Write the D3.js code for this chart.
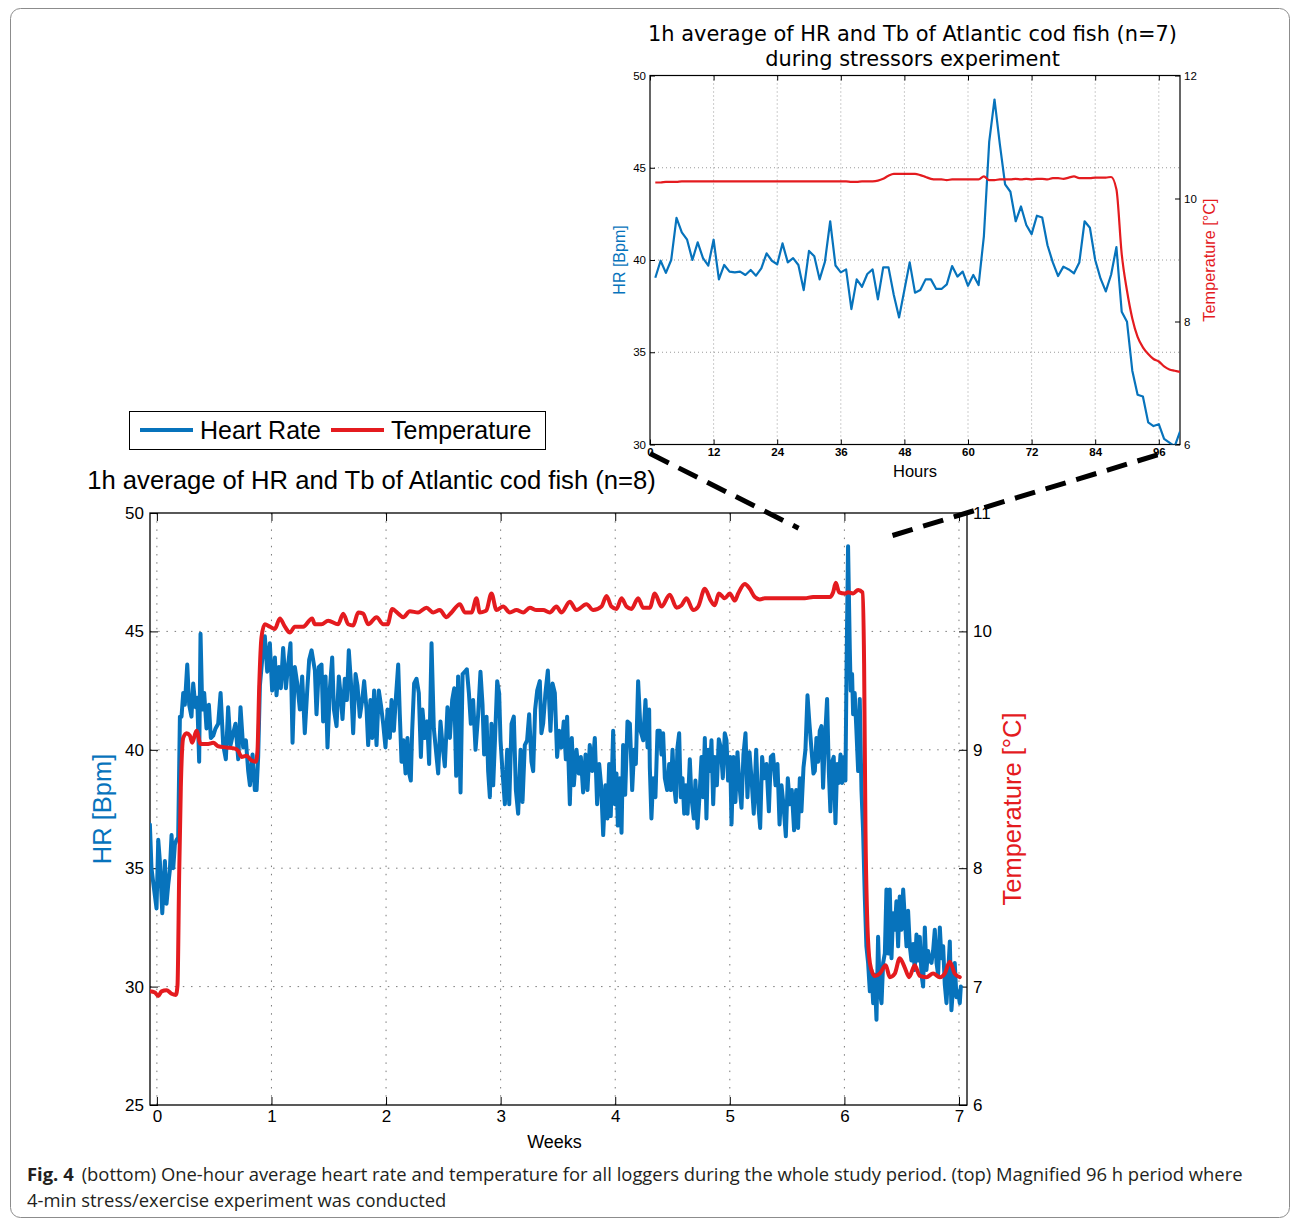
<!DOCTYPE html>
<html>
<head>
<meta charset="utf-8">
<script src="https://d3js.org/d3.v7.min.js"></script>
<style>
  body { margin: 0; background: #fff; }
  svg { display: block; font-family: "Liberation Sans", Arial, sans-serif; }
</style>
</head>
<body>
<div id="chart"></div>
<script>
// ---------- data ----------
var weekTicks = [0, 1, 2, 3, 4, 5, 6, 7];
var hrTicks = [25, 30, 35, 40, 45, 50];
var tempTicks = [6, 7, 8, 9, 10, 11];
var hourTicks = [0, 12, 24, 36, 48, 60, 72, 84, 96];
var insetHrTicks = [30, 35, 40, 45, 50];
var insetTempTicks = [6, 8, 10, 12];

// bottom panel: [week, heart rate (bpm)]
var hrWeekly = [
  [-0.061,36.85],[-0.047,35.0],[-0.032,34.4],[-0.003,33.3],[0.012,36.2],[0.026,35.3],[0.047,33.1],[0.070,35.3],
  [0.084,33.5],[0.099,34.3],[0.113,34.9],[0.128,36.4],[0.143,35.0],[0.157,36.0],[0.172,36.2],[0.186,36.3],
  [0.201,41.4],[0.215,41.4],[0.230,42.4],[0.244,41.9],[0.265,43.6],[0.282,41.9],[0.302,41.4],[0.317,42.8],
  [0.337,41.8],[0.352,42.2],[0.369,39.5],[0.381,44.9],[0.396,41.7],[0.413,42.4],[0.433,40.9],[0.454,41.9],
  [0.471,40.5],[0.492,40.6],[0.512,40.9],[0.535,41.1],[0.556,42.4],[0.579,40.2],[0.602,39.6],[0.622,41.8],
  [0.643,40.2],[0.666,40.7],[0.686,41.1],[0.710,39.6],[0.730,41.8],[0.753,40.1],[0.777,40.4],[0.797,39.1],
  [0.812,38.5],[0.835,39.8],[0.855,38.3],[0.870,38.3],[0.884,39.7],[0.899,42.7],[0.919,43.8],[0.942,44.8],
  [0.963,43.3],[0.986,44.5],[1.006,42.5],[1.030,43.9],[1.044,42.3],[1.065,43.5],[1.082,42.6],[1.102,44.3],
  [1.126,42.6],[1.146,43.6],[1.166,44.5],[1.184,40.3],[1.204,43.5],[1.225,42.8],[1.248,41.7],[1.268,43.1],
  [1.291,40.7],[1.312,42.5],[1.329,43.8],[1.350,44.2],
  [1.379,43.35],[1.393,41.5],[1.414,43.5],[1.437,43.6],[1.451,41.2],[1.472,43.1],[1.489,40.1],[1.510,42.6],
  [1.530,43.9],[1.545,41.7],[1.568,41.0],[1.588,43.1],[1.606,42.2],[1.620,41.3],[1.640,43.0],[1.658,42.1],
  [1.675,44.2],[1.693,42.9],[1.713,40.7],[1.734,43.2],[1.751,42.7],[1.771,41.4],[1.792,42.1],[1.809,42.9],
  [1.830,41.7],[1.844,40.2],[1.864,42.1],[1.879,40.5],[1.896,42.5],[1.917,40.2],[1.937,42.5],[1.955,41.9],
  [1.975,41.1],[1.995,40.1],[2.013,41.7],[2.033,40.5],[2.048,42.1],[2.068,40.8],[2.086,42.2],[2.106,43.6],
  [2.120,41.5],[2.135,39.5],[2.152,40.4],[2.170,39.0],[2.187,40.5],[2.202,39.0],[2.216,38.7],[2.228,40.8],
  [2.245,42.8],[2.266,43.0],[2.286,42.4],[2.304,39.7],[2.318,41.7],[2.339,40.5],[2.359,41.2],[2.376,39.4],
  [2.397,44.5],[2.417,40.9],[2.435,40.0],[2.455,39.0],[2.475,41.2],[2.493,40.2],[2.513,39.3],[2.536,41.8],
  [2.557,40.5],[2.577,42.1],[2.595,42.6],[2.612,38.9],[2.629,43.1],[2.650,38.2],[2.668,43.2],[2.688,43.3],
  [2.705,43.4],[2.723,42.4],[2.740,41.1],[2.760,42.1],[2.781,40.0],[2.804,41.5],[2.824,43.3],[2.842,41.9],
  [2.856,39.8],
  [2.877,41.4],[2.891,39.1],[2.906,38.0],[2.920,41.1],[2.935,38.5],[2.949,40.2],[2.970,42.9],[2.987,42.4],
  [2.999,40.4],[3.016,39.1],[3.037,37.7],[3.057,40.0],[3.075,37.7],[3.095,41.1],[3.115,41.4],[3.133,38.3],
  [3.153,37.3],[3.174,40.0],[3.191,37.8],[3.211,40.2],[3.231,40.4],[3.249,41.5],[3.269,39.5],[3.284,39.1],
  [3.301,41.7],[3.319,42.5],[3.342,42.9],[3.356,40.7],[3.371,41.1],[3.391,42.4],[3.412,43.35],[3.435,40.8],
  [3.453,42.8],[3.473,42.4],[3.493,39.7],[3.511,40.8],[3.531,40.1],[3.551,41.2],[3.569,39.6],[3.580,41.4],
  [3.604,37.7],[3.621,40.5],[3.639,38.5],[3.662,40.0],[3.682,39.0],[3.700,39.7],[3.720,38.2],[3.741,39.8],
  [3.758,38.3],[3.778,40.2],[3.799,39.1],[3.822,40.5],[3.842,37.7],[3.860,39.4],[3.877,38.5],[3.895,36.4],
  [3.915,38.5],[3.932,37.1],[3.947,39.4],[3.961,37.2],[3.982,40.8],[3.997,37.7],[4.011,39.0],[4.023,36.8],
  [4.040,38.8],[4.055,36.5],[4.069,40.2],[4.087,38.1],[4.107,41.2],[4.128,41.1],[4.148,38.3],[4.165,40.0],
  [4.180,39.4],[4.200,42.9],[4.221,40.8],[4.244,40.4],[4.264,42.1],[4.282,40.1],[4.296,41.7],
  [4.302,39.25],[4.316,37.1],[4.331,38.8],[4.351,38.0],[4.369,40.8],[4.389,40.8],[4.404,39.8],[4.418,40.7],
  [4.433,38.8],[4.453,38.3],[4.471,39.4],[4.485,38.3],[4.500,40.0],[4.514,38.5],[4.529,37.8],[4.543,40.1],
  [4.558,40.7],[4.572,38.0],[4.587,38.8],[4.602,37.3],[4.616,38.5],[4.631,37.3],[4.651,39.6],[4.665,38.0],
  [4.686,37.1],[4.700,38.7],[4.718,36.7],[4.735,38.0],[4.753,39.7],[4.767,38.0],[4.782,40.5],[4.796,37.1],
  [4.811,40.0],[4.826,39.1],[4.840,40.4],[4.855,37.7],[4.869,39.7],[4.887,38.5],[4.904,40.45],[4.921,40.1],
  [4.939,38.8],[4.956,40.7],[4.971,40.4],[4.985,38.7],[5.003,39.7],[5.015,36.85],[5.032,39.7],[5.049,37.8],
  [5.067,39.9],[5.084,38.5],[5.102,37.55],[5.119,39.8],[5.137,40.7],[5.154,38.0],[5.172,39.9],[5.189,38.8],
  [5.209,37.3],[5.230,40.0],[5.247,37.8],[5.265,36.7],[5.282,39.7],[5.300,38.8],[5.320,39.4],[5.341,37.4],
  [5.358,39.7],[5.378,39.8],[5.399,38.5],[5.416,39.4],[5.434,36.85],[5.451,38.5],[5.468,37.7],[5.489,36.35],
  [5.506,38.8],[5.524,37.7],[5.541,38.3],[5.561,36.6],[5.579,38.3],[5.596,36.7],[5.611,38.8],[5.625,37.4],
  [5.643,39.25],[5.660,40.0],[5.678,42.3],[5.695,41.1],[5.713,40.0],[5.730,39.0],
  [5.742,39.1],[5.756,40.5],[5.771,39.5],[5.785,40.8],[5.800,41.0],[5.814,38.4],[5.829,40.3],[5.849,42.15],
  [5.864,39.1],[5.878,37.4],[5.893,39.5],[5.907,39.7],[5.922,36.9],[5.937,39.4],[5.951,38.6],[5.966,39.8],
  [5.980,38.6],[5.995,39.7],[6.009,38.7],[6.020,44.0],[6.032,48.6],[6.047,44.3],[6.055,42.5],[6.067,43.2],
  [6.076,41.5],[6.090,42.4],[6.105,40.8],[6.120,39.1],[6.134,42.15],[6.149,38.3],[6.163,36.6],[6.178,33.8],
  [6.192,31.7],[6.207,31.0],[6.222,29.8],[6.236,30.7],[6.251,29.3],[6.265,30.5],[6.280,28.6],[6.294,32.1],
  [6.309,29.8],[6.324,29.3],[6.338,31.0],[6.353,31.4],[6.367,34.1],[6.382,31.4],[6.396,34.1],[6.411,31.2],
  [6.425,33.1],[6.440,32.4],[6.454,33.6],[6.469,31.7],[6.483,33.8],[6.498,32.4],[6.513,34.1],[6.527,32.9],
  [6.542,31.7],[6.556,33.2],[6.571,31.7],[6.585,31.1],[6.600,31.8],[6.614,30.7],[6.629,32.2],[6.644,31.1],
  [6.658,32.1],[6.673,30.5],[6.687,30.0],[6.702,32.5],[6.716,30.7],[6.731,31.5],[6.745,31.1],[6.760,31.0],
  [6.774,31.5],[6.789,32.4],[6.804,31.0],[6.818,30.5],[6.833,32.5],[6.847,31.2],[6.862,31.7],[6.876,30.1],
  [6.891,29.3],[6.905,30.5],[6.920,31.9],[6.934,29.0],[6.949,30.0],[6.963,31.0],[6.978,29.55],[6.992,29.8],
  [7.007,29.3],[7.016,30.0]
];

// bottom panel: [week, temperature (°C)]
var tempWeekly = [
  [-0.061,6.96],[-0.017,6.95],[0.012,6.92],[0.041,6.96],[0.084,6.97],[0.128,6.94],[0.166,6.93],[0.180,7.01],
  [0.195,7.97],[0.209,8.68],[0.230,9.10],[0.259,9.14],[0.288,9.12],[0.308,9.06],[0.346,9.16],[0.381,9.05],
  [0.448,9.05],[0.492,9.06],[0.535,9.03],[0.608,9.02],[0.681,9.01],[0.710,8.99],[0.739,8.94],[0.782,8.95],
  [0.826,8.91],[0.864,8.90],[0.878,8.99],[0.893,9.53],[0.913,9.95],[0.942,10.06],[0.986,10.04],[1.030,10.02],
  [1.073,10.11],[1.117,10.04],[1.161,9.99],[1.204,10.04],[1.277,10.04],[1.355,10.11],
  [1.379,10.06],[1.437,10.06],[1.495,10.09],[1.582,10.06],[1.626,10.15],[1.670,10.06],[1.713,10.05],[1.757,10.16],
  [1.800,10.15],[1.844,10.06],[1.917,10.12],[1.975,10.06],[2.013,10.06],[2.054,10.19],[2.106,10.15],[2.150,10.12],
  [2.208,10.17],[2.280,10.16],[2.353,10.20],[2.411,10.16],[2.469,10.18],[2.527,10.12],[2.571,10.16],[2.644,10.23],
  [2.688,10.16],[2.746,10.16],[2.789,10.28],[2.818,10.16],[2.862,10.17],
  [2.877,10.18],[2.920,10.32],[2.964,10.18],[3.022,10.21],[3.080,10.16],[3.138,10.18],[3.197,10.16],[3.255,10.20],
  [3.313,10.18],[3.371,10.18],[3.429,10.16],[3.487,10.21],[3.531,10.16],[3.604,10.25],[3.662,10.18],[3.749,10.23],
  [3.808,10.18],[3.880,10.21],[3.924,10.30],[3.967,10.21],[4.011,10.19],[4.055,10.28],[4.098,10.21],[4.142,10.19],
  [4.200,10.28],[4.244,10.20],[4.302,10.20],
  [4.345,10.32],[4.404,10.21],[4.476,10.31],[4.535,10.20],[4.578,10.22],[4.622,10.28],[4.680,10.18],[4.724,10.21],
  [4.782,10.36],[4.834,10.26],[4.869,10.22],[4.904,10.32],[4.956,10.28],[5.000,10.32],[5.044,10.26],[5.073,10.32],
  [5.131,10.40],[5.174,10.36],[5.218,10.29],[5.262,10.27],[5.305,10.28],[5.480,10.28],[5.654,10.28],[5.727,10.29],
  [5.756,10.29],[5.873,10.29],[5.902,10.33],[5.925,10.41],[5.954,10.33],[6.004,10.32],[6.032,10.33],[6.076,10.32],
  [6.120,10.35],[6.158,10.33],[6.172,9.73],[6.184,8.32],[6.198,7.61],[6.216,7.25],[6.236,7.14],[6.265,7.09],
  [6.309,7.11],[6.361,7.18],[6.396,7.08],[6.440,7.11],[6.483,7.24],[6.527,7.16],[6.565,7.08],[6.614,7.18],
  [6.658,7.09],[6.716,7.08],[6.774,7.11],[6.833,7.08],[6.876,7.11],[6.920,7.21],[6.963,7.11],[7.007,7.08]
];

// top panel: hourly averages, hour 1 .. 100
var insetHr = [
  39.04,39.96,39.3,40.0,42.28,41.5,41.1,40.0,40.96,40.1,
  39.7,41.1,38.95,39.73,39.37,39.33,39.37,39.19,39.46,39.15,
  39.55,40.36,39.96,39.76,40.9,39.87,40.1,39.73,38.37,40.49,
  40.2,38.95,39.9,42.1,39.7,39.33,39.49,37.34,38.95,38.55,
  39.24,39.49,37.87,39.6,39.6,38.1,36.89,38.37,39.87,38.23,
  38.37,38.95,38.95,38.43,38.43,38.68,39.67,39.1,39.37,38.6,
  39.19,38.64,41.3,46.4,48.7,46.3,44.1,43.7,42.1,42.9,
  41.9,41.4,42.4,42.3,40.8,39.87,39.13,39.64,39.49,39.28,
  39.86,42.1,41.75,40.0,39.0,38.3,39.2,40.7,37.2,36.65,
  34.0,32.7,32.6,31.2,31.0,31.1,30.3,30.1,29.9,30.7
];
var insetTemp = [
  10.26,10.26,10.27,10.27,10.27,10.28,10.28,10.28,10.28,10.28,
  10.28,10.28,10.28,10.28,10.28,10.28,10.28,10.28,10.28,10.28,
  10.28,10.28,10.28,10.28,10.28,10.28,10.28,10.28,10.28,10.28,
  10.28,10.28,10.28,10.28,10.28,10.28,10.28,10.27,10.27,10.28,
  10.28,10.28,10.29,10.32,10.37,10.40,10.40,10.40,10.40,10.40,
  10.38,10.35,10.32,10.31,10.31,10.30,10.31,10.31,10.31,10.31,
  10.31,10.31,10.36,10.30,10.30,10.31,10.31,10.31,10.32,10.31,
  10.32,10.31,10.32,10.32,10.31,10.33,10.33,10.32,10.34,10.36,
  10.33,10.33,10.33,10.34,10.34,10.34,10.35,10.15,9.1,8.5,
  8.05,7.75,7.58,7.47,7.39,7.35,7.27,7.22,7.2,7.18
];
var insetHours = d3.range(1, insetHr.length + 1); // one sample per hour

var blue = "#0773bc", red = "#e41b1f";

var width = 1295, height = 1221;
var svg = d3.select("#chart").append("svg")
  .attr("width", width)
  .attr("height", height);

// rounded figure frame
svg.append("rect")
  .attr("x", 10.5).attr("y", 8.5)
  .attr("width", 1279).attr("height", 1209)
  .attr("rx", 10)
  .attr("fill", "none").attr("stroke", "#8c8c8c");

// shrink/grow a text so it covers a given width
function fitWidth(sel, target) {
  var len = sel.node().getComputedTextLength();
  var fs = parseFloat(sel.attr("font-size"));
  sel.attr("font-size", (fs * target / len).toFixed(2));
}

// grid, frame and inward ticks of one panel
function drawFrame(box, x, yL, yR, xt, ylt, yrt, o) {
  var g = svg.append("g");
  g.selectAll(".vg").data(xt.filter(function(d) { return x(d) > box.left + 2 && x(d) < box.right - 2; }))
    .join("line")
      .attr("x1", function(d) { return x(d); }).attr("x2", function(d) { return x(d); })
      .attr("y1", box.top).attr("y2", box.bottom)
      .attr("stroke", o.gridColor).attr("stroke-dasharray", o.dash);
  g.selectAll(".hg").data(ylt.filter(function(d) { return yL(d) > box.top + 2 && yL(d) < box.bottom - 2; }))
    .join("line")
      .attr("y1", function(d) { return yL(d); }).attr("y2", function(d) { return yL(d); })
      .attr("x1", box.left).attr("x2", box.right)
      .attr("stroke", o.gridColor).attr("stroke-dasharray", o.dash);

  function style(a) {
    a.attr("font-family", o.font).attr("font-size", o.tickFont);
    a.select(".domain").remove();
    a.selectAll(".tick line").attr("stroke", "#000");
    a.selectAll(".tick text").attr("fill", "#000");
  }
  var fmt = d3.format("d");
  svg.append("g").attr("transform", "translate(0," + box.bottom + ")")
    .call(d3.axisBottom(x).tickValues(xt).tickFormat(fmt).tickSizeInner(-o.tick).tickSizeOuter(0).tickPadding(o.xPad))
    .call(style)
    .selectAll(".tick text").attr("font-weight", o.xBold ? "bold" : null);
  svg.append("g").attr("transform", "translate(0," + box.top + ")")
    .call(d3.axisTop(x).tickValues(xt).tickSizeInner(-o.tick).tickSizeOuter(0).tickFormat(""))
    .call(style);
  svg.append("g").attr("transform", "translate(" + box.left + ",0)")
    .call(d3.axisLeft(yL).tickValues(ylt).tickFormat(fmt).tickSizeInner(-o.tick).tickSizeOuter(0).tickPadding(o.yPad))
    .call(style);
  svg.append("g").attr("transform", "translate(" + box.right + ",0)")
    .call(d3.axisRight(yR).tickValues(yrt).tickFormat(fmt).tickSizeInner(-o.tick).tickSizeOuter(0).tickPadding(o.yPad))
    .call(style);

  svg.append("rect")
    .attr("x", box.left).attr("y", box.top)
    .attr("width", box.right - box.left).attr("height", box.bottom - box.top)
    .attr("fill", "none").attr("stroke", "#000").attr("stroke-width", o.frame);
}

// ---------- bottom panel: whole study ----------
var main = {left: 150, right: 967, top: 513, bottom: 1105};
var x = d3.scaleLinear().domain([-0.06, 7.07]).range([main.left, main.right]);
var yHr = d3.scaleLinear().domain([25, 50]).range([main.bottom, main.top]);
var yTemp = d3.scaleLinear().domain([6, 11]).range([main.bottom, main.top]);

drawFrame(main, x, yHr, yTemp, weekTicks, hrTicks, tempTicks,
  {gridColor: "#7a7a7a", dash: "1.5,6.7", tick: 8, font: "Liberation Sans, Arial, sans-serif",
   tickFont: 17, xPad: 5, yPad: 6, frame: 1.3, xBold: false});

svg.append("clipPath").attr("id", "clipMain").append("rect")
  .attr("x", main.left).attr("y", main.top)
  .attr("width", main.right - main.left).attr("height", main.bottom - main.top);

var lineHr = d3.line().x(function(d) { return x(d[0]); }).y(function(d) { return yHr(d[1]); });
var lineTemp = d3.line().curve(d3.curveMonotoneX)
  .x(function(d) { return x(d[0]); }).y(function(d) { return yTemp(d[1]); });

svg.append("path").datum(hrWeekly)
  .attr("d", lineHr).attr("clip-path", "url(#clipMain)")
  .attr("fill", "none").attr("stroke", blue).attr("stroke-width", 4)
  .attr("stroke-linejoin", "round").attr("stroke-linecap", "round");
svg.append("path").datum(tempWeekly)
  .attr("d", lineTemp).attr("clip-path", "url(#clipMain)")
  .attr("fill", "none").attr("stroke", red).attr("stroke-width", 4)
  .attr("stroke-linejoin", "round").attr("stroke-linecap", "round");

svg.append("text").attr("x", (main.left + main.right) / 2 - 4).attr("y", 1148)
  .attr("text-anchor", "middle").attr("font-size", 18).text("Weeks");
svg.append("text").attr("transform", "translate(111," + ((main.top + main.bottom) / 2) + ") rotate(-90)")
  .attr("text-anchor", "middle").attr("font-size", 25.5).attr("fill", blue).text("HR [Bpm]");
svg.append("text").attr("transform", "translate(1021," + ((main.top + main.bottom) / 2) + ") rotate(-90)")
  .attr("text-anchor", "middle").attr("font-size", 25.5).attr("fill", red).text("Temperature [°C]");

var mainTitle = svg.append("text").attr("x", 371.5).attr("y", 489)
  .attr("text-anchor", "middle").attr("font-size", 22)
  .text("1h average of HR and Tb of Atlantic cod fish (n=8)");
fitWidth(mainTitle, 569);

// legend
var legend = svg.append("g");
legend.append("rect").attr("x", 129.5).attr("y", 411.5).attr("width", 416).attr("height", 38)
  .attr("fill", "#fff").attr("stroke", "#000");
var legendItems = [{label: "Heart Rate", color: blue, x: 140}, {label: "Temperature", color: red, x: 331}];
legend.selectAll(".item").data(legendItems).join("g")
  .each(function(d) {
    var it = d3.select(this);
    it.append("line").attr("x1", d.x).attr("x2", d.x + 53).attr("y1", 430).attr("y2", 430)
      .attr("stroke", d.color).attr("stroke-width", 4);
    it.append("text").attr("x", d.x + 60).attr("y", 439).attr("font-size", 25).text(d.label);
  });

// ---------- top panel: 96 h stress experiment ----------
var inset = {left: 650, right: 1180, top: 75.5, bottom: 444.5};
var xIn = d3.scaleLinear().domain([0, 100]).range([inset.left, inset.right]);
var yInHr = d3.scaleLinear().domain([30, 50]).range([inset.bottom, inset.top]);
var yInTemp = d3.scaleLinear().domain([6, 12]).range([inset.bottom, inset.top]);

drawFrame(inset, xIn, yInHr, yInTemp, hourTicks, insetHrTicks, insetTempTicks,
  {gridColor: "#9a9a9a", dash: "1,3", tick: 5, font: "Liberation Sans, Arial, sans-serif",
   tickFont: 11.5, xPad: 3, yPad: 4, frame: 1.2, xBold: true});

svg.append("clipPath").attr("id", "clipInset").append("rect")
  .attr("x", inset.left).attr("y", inset.top)
  .attr("width", inset.right - inset.left).attr("height", inset.bottom - inset.top);

var lineInHr = d3.line().x(function(d, i) { return xIn(insetHours[i]); }).y(function(d) { return yInHr(d); });
var lineInTemp = d3.line().curve(d3.curveMonotoneX)
  .x(function(d, i) { return xIn(insetHours[i]); }).y(function(d) { return yInTemp(d); });

svg.append("path").datum(insetHr)
  .attr("d", lineInHr).attr("clip-path", "url(#clipInset)")
  .attr("fill", "none").attr("stroke", blue).attr("stroke-width", 2.2).attr("stroke-linejoin", "round");
svg.append("path").datum(insetTemp)
  .attr("d", lineInTemp).attr("clip-path", "url(#clipInset)")
  .attr("fill", "none").attr("stroke", red).attr("stroke-width", 2.2).attr("stroke-linejoin", "round");

svg.append("text").attr("x", 915).attr("y", 477)
  .attr("text-anchor", "middle").attr("font-size", 16.5).text("Hours");
svg.append("text").attr("transform", "translate(625," + ((inset.top + inset.bottom) / 2) + ") rotate(-90)")
  .attr("text-anchor", "middle").attr("font-size", 16).attr("fill", blue).text("HR [Bpm]");
svg.append("text").attr("transform", "translate(1215," + ((inset.top + inset.bottom) / 2) + ") rotate(-90)")
  .attr("text-anchor", "middle").attr("font-size", 16.3).attr("fill", red).text("Temperature [°C]");

var insetTitle = svg.append("text").attr("x", 912.5).attr("y", 41)
  .attr("text-anchor", "middle").attr("font-family", "DejaVu Sans, sans-serif").attr("font-size", 19.5)
  .text("1h average of HR and Tb of Atlantic cod fish (n=7)");
fitWidth(insetTitle, 529);
svg.append("text").attr("x", 912.5).attr("y", 66)
  .attr("text-anchor", "middle").attr("font-family", "DejaVu Sans, sans-serif")
  .attr("font-size", insetTitle.attr("font-size"))
  .text("during stressors experiment");

// dashed zoom connectors from the inset down to the bottom panel
var connectors = [
  [[xIn(0), inset.bottom + 9], [x(5.6), yHr(49.36)]],
  [[x(6.42), yHr(49.05)], [xIn(96), inset.bottom + 10]]
];
svg.selectAll(".connector").data(connectors).join("line")
  .attr("x1", function(d) { return d[0][0]; }).attr("y1", function(d) { return d[0][1]; })
  .attr("x2", function(d) { return d[1][0]; }).attr("y2", function(d) { return d[1][1]; })
  .attr("stroke", "#000").attr("stroke-width", 5).attr("stroke-dasharray", "21,11");

// ---------- caption ----------
var cap1 = svg.append("text").attr("x", 27).attr("y", 1181)
  .attr("font-family", "Open Sans, Liberation Sans, sans-serif").attr("font-size", 17).attr("fill", "#231f20");
cap1.append("tspan").attr("font-weight", "bold").text("Fig. 4");
cap1.append("tspan").attr("dx", 8)
  .text("(bottom) One-hour average heart rate and temperature for all loggers during the whole study period. (top) Magnified 96 h period where");
fitWidth(cap1, 1208);
svg.append("text").attr("x", 27).attr("y", 1207)
  .attr("font-family", "Open Sans, Liberation Sans, sans-serif").attr("font-size", cap1.attr("font-size"))
  .attr("fill", "#231f20")
  .text("4-min stress/exercise experiment was conducted");
</script>
</body>
</html>
